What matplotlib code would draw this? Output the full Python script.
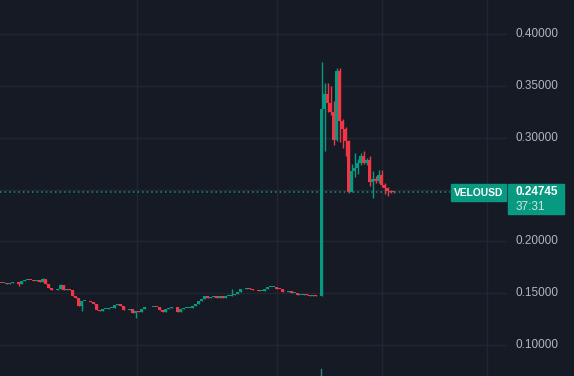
import matplotlib
matplotlib.use("Agg")
import matplotlib.pyplot as plt
from matplotlib.patches import Rectangle
import numpy as np

# candle closes, one per bar (VELOUSD)
closes = [
    0.1598, 0.1598, 0.1593, 0.1598, 0.1603, 0.1608, 0.1593, 0.1617, 0.1627, 0.1627,
    0.1625, 0.1622, 0.1627, 0.1612, 0.1636, 0.1589, 0.1550, 0.1526, 0.1531, 0.1545,
    0.1579, 0.1526, 0.1536, 0.1531, 0.1473, 0.1453, 0.1376, 0.1424, 0.1424, 0.1420,
    0.1415, 0.1400, 0.1338, 0.1328, 0.1347, 0.1352, 0.1354, 0.1354, 0.1386, 0.1400,
    0.1381, 0.1333, 0.1342, 0.1347, 0.1309, 0.1328, 0.1318, 0.1347, 0.1362, 0.1362,
    0.1371, 0.1371, 0.1367, 0.1333, 0.1314, 0.1347, 0.1357, 0.1362, 0.1362, 0.1318,
    0.1347, 0.1354, 0.1354, 0.1354, 0.1381, 0.1396, 0.1429, 0.1444, 0.1468, 0.1458,
    0.1463, 0.1468, 0.1458, 0.1473, 0.1458, 0.1473, 0.1473, 0.1478, 0.1492, 0.1511,
    0.1536, 0.1545, 0.1550, 0.1545, 0.1531, 0.1526, 0.1521, 0.1521, 0.1545, 0.1560,
    0.1560, 0.1560, 0.1545, 0.1540, 0.1507, 0.1516, 0.1521, 0.1502, 0.1502, 0.1487,
    0.1487, 0.1489, 0.1478, 0.1473, 0.1478, 0.1473, 0.1468,
    # spike and after
    0.3277, 0.3420, 0.3330, 0.3250, 0.2980, 0.3640, 0.3160, 0.3080, 0.2970, 0.2480,
    0.2680, 0.2710, 0.2760, 0.2820, 0.2760, 0.2780, 0.2570, 0.2600, 0.2580, 0.2640,
    0.2540, 0.2510, 0.2490, 0.2480, 0.24745,
]
first_open = 0.1600

# wicks that stick out past the body (bar index -> price)
wick_highs = {14: 0.1642, 20: 0.1589, 77: 0.1540,
              107: 0.3727, 108: 0.3530, 109: 0.3525, 110: 0.3500, 111: 0.3350,
              112: 0.3670, 113: 0.3675, 114: 0.3180, 115: 0.3100, 116: 0.2980,
              117: 0.2750, 118: 0.2850, 119: 0.2790, 120: 0.2850, 121: 0.2870,
              122: 0.2800, 123: 0.2820, 124: 0.2680, 125: 0.2630, 126: 0.2690,
              127: 0.2690, 128: 0.2560, 129: 0.2520, 130: 0.2500, 131: 0.2490}
wick_lows = {6: 0.1569, 27: 0.1331, 45: 0.1264,
             108: 0.2875, 109: 0.3250, 110: 0.3220, 111: 0.2930, 112: 0.2965,
             113: 0.2960, 114: 0.2900, 115: 0.2820, 116: 0.2465, 117: 0.2475,
             118: 0.2620, 119: 0.2650, 120: 0.2740, 121: 0.2750, 122: 0.2740,
             123: 0.2535, 124: 0.2415, 125: 0.2560, 126: 0.2560, 127: 0.2520,
             128: 0.2460, 129: 0.2435, 130: 0.2470, 131: 0.2465}

price_ticks = [0.10, 0.15, 0.20, 0.25, 0.30, 0.35, 0.40]
time_grid = [45.5, 92.3, 127.3, 162.3]
last_price = "0.24745"
countdown = "37:31"
symbol = "VELOUSD"

bg = '#161a25'
grid = '#232632'
up = '#089981'
down = '#f23645'

W, H = 574, 376
fig = plt.figure(figsize=(W / 100, H / 100), dpi=100)
fig.patch.set_facecolor(bg)
ax = fig.add_axes([0, 0, 507 / W, 1])
ax.set_facecolor(bg)

n = len(closes)
x = np.arange(n)
opens = np.array([first_open] + closes[:-1])
closes_a = np.array(closes)
highs = np.array([wick_highs.get(i, max(opens[i], closes_a[i])) for i in range(n)])
lows = np.array([wick_lows.get(i, min(opens[i], closes_a[i])) for i in range(n)])
colors = [up if c >= o else down for o, c in zip(opens, closes_a)]

ax.vlines(x, lows, highs, colors=colors, linewidth=1, zorder=3)
body = np.maximum(np.abs(closes_a - opens), 0.0009)
ax.bar(x, body, bottom=np.minimum(opens, closes_a), width=0.85,
       color=colors, linewidth=0, zorder=4)

ax.set_xlim(-0.17, 168.8)
ax.set_ylim(0.0701, 0.4328)

for p in price_ticks:
    ax.axhline(p, color=grid, linewidth=1, zorder=1)
for t in time_grid:
    ax.axvline(t, color=grid, linewidth=1, zorder=1)

# last price line
ax.plot([-0.17, 149.9], [closes[-1]] * 2, color=up, linewidth=1.1,
        linestyle=(0, (1, 2)), zorder=5)

for s in ax.spines.values():
    s.set_visible(False)
ax.set_xticks([])
ax.set_yticks([])

def fx(px):
    return px / W

def fy(py):
    return 1 - py / H

# price scale labels
for p in price_ticks:
    if p == 0.25:
        continue
    ypix = 34 + (0.40 - p) * 1036.7
    fig.text(fx(516), fy(ypix), f"{p:.5f}", color='#b2b5be', fontsize=8.5,
             family='Liberation Sans', va='center', ha='left')

# symbol + last price tags
fig.patches.append(Rectangle((fx(451), fy(201)), fx(506) - fx(451), fy(184) - fy(201),
                             transform=fig.transFigure, color=up, zorder=2))
fig.text(fx(478.5), fy(192.5), symbol, color='white', fontsize=7.4, weight='bold',
         family='Liberation Sans', va='center', ha='center', zorder=6)
fig.patches.append(Rectangle((fx(508), fy(214)), fx(564) - fx(508), fy(184) - fy(214),
                             transform=fig.transFigure, color=up, zorder=2))
fig.text(fx(516), fy(192), last_price, color='white', fontsize=8.5, weight='bold',
         family='Liberation Sans', va='center', ha='left', zorder=6)
fig.text(fx(516), fy(207), countdown, color='#cfe6e0', fontsize=8.5,
         family='Liberation Sans', va='center', ha='left', zorder=6)

# small time-scale marker at the bottom
fig.lines.append(plt.Line2D([fx(321), fx(321)], [fy(376), fy(369)],
                            transform=fig.transFigure, color='#3d7f7a', linewidth=1))

fig.savefig('out.png', dpi=100, facecolor=bg)
